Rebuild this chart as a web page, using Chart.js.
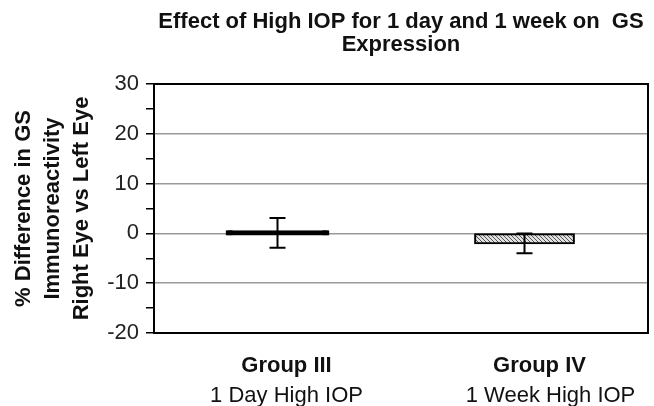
<!DOCTYPE html>
<html>
<head>
<meta charset="utf-8">
<script src="https://cdn.jsdelivr.net/npm/chart.js@4"></script>
<style>
  html, body { margin: 0; padding: 0; background: #fff; }
  #wrap { width: 654px; height: 406px; }
</style>
</head>
<body>
<div id="wrap"><canvas id="chart"></canvas></div>
<script>
// data
const categories = ["Group III", "Group IV"];
const subLabels = ["1 Day High IOP", "1 Week High IOP"];
const meanDiff = [0.1, -2.0];
const errDiff = [3.0, 2.0];
const titleLines = ["Effect of High IOP for 1 day and 1 week on  GS", "Expression"];
const yTitleLines = ["% Difference in GS", "Immunoreactivity", "Right Eye vs Left Eye"];
const yMin = -20, yMax = 30;

const FONT = "'Liberation Sans', Arial, sans-serif";

// hatched fill like the excel pattern
function hatch() {
  const c = document.createElement("canvas");
  c.width = 4; c.height = 4;
  const g = c.getContext("2d");
  g.fillStyle = "#e0e0e0";
  g.fillRect(0, 0, 4, 4);
  g.strokeStyle = "#555";
  g.lineWidth = 1;
  g.beginPath();
  g.moveTo(-1, -1); g.lineTo(5, 5);
  g.moveTo(-1, 3); g.lineTo(1, 5);
  g.moveTo(3, -1); g.lineTo(5, 1);
  g.stroke();
  return g.createPattern(c, "repeat");
}

const extras = {
  id: "extras",
  afterDatasetsDraw(chart) {
    const ctx = chart.ctx;
    const y = chart.scales.y;
    const meta = chart.getDatasetMeta(0);
    ctx.save();
    ctx.strokeStyle = "#000";
    ctx.lineWidth = 2;
    meta.data.forEach((bar, i) => {
      const top = y.getPixelForValue(meanDiff[i] + errDiff[i]);
      const bot = y.getPixelForValue(meanDiff[i] - errDiff[i]);
      ctx.beginPath();
      ctx.moveTo(bar.x, top); ctx.lineTo(bar.x, bot);
      ctx.moveTo(bar.x - 8, top); ctx.lineTo(bar.x + 8, top);
      ctx.moveTo(bar.x - 8, bot); ctx.lineTo(bar.x + 8, bot);
      ctx.stroke();
    });
    ctx.restore();
  },
  afterDraw(chart) {
    const ctx = chart.ctx;
    const a = chart.chartArea;
    ctx.save();
    ctx.strokeStyle = "#000";
    ctx.lineWidth = 2;
    ctx.strokeRect(a.left, a.top, a.right - a.left, a.bottom - a.top);

    const cx = (a.left + a.right) / 2;
    ctx.fillStyle = "#111";
    ctx.textAlign = "center";
    ctx.textBaseline = "alphabetic";
    ctx.font = "bold 22px " + FONT;
    ctx.fillText(titleLines[0], cx, 28);
    ctx.fillText(titleLines[1], cx, 51);

    const meta = chart.getDatasetMeta(0);
    const nudge = [[9, 9], [15, 26]];
    meta.data.forEach((bar, i) => {
      ctx.font = "bold 22px " + FONT;
      ctx.fillText(categories[i], bar.x + nudge[i][0], 372);
      ctx.font = "22px " + FONT;
      ctx.fillText(subLabels[i], bar.x + nudge[i][1], 402);
    });
    ctx.restore();
  }
};

new Chart(document.getElementById("chart"), {
  type: "bar",
  data: {
    labels: categories,
    datasets: [{
      data: meanDiff,
      backgroundColor: ["#000", hatch()],
      borderColor: "#000",
      borderWidth: 2,
      borderSkipped: false,
      inflateAmount: [2.5, 1],
      barPercentage: 0.4,
      categoryPercentage: 1
    }]
  },
  options: {
    responsive: true,
    maintainAspectRatio: false,
    animation: false,
    layout: { padding: { top: 84, right: 6, left: 0, bottom: 0 } },
    plugins: { legend: { display: false }, tooltip: { enabled: false }, title: { display: false } },
    scales: {
      x: {
        grid: { display: false },
        border: { display: false },
        ticks: { display: false },
        afterFit: s => { s.height = 73; }
      },
      y: {
        min: yMin,
        max: yMax,
        afterFit: s => { s.width = 154; },
        border: { display: true, color: "#000", width: 2 },
        grid: {
          color: c => (c.tick && c.tick.value % 10 === 0) ? "#999" : "rgba(0,0,0,0)",
          lineWidth: 1.5,
          tickColor: "#000",
          tickLength: 8
        },
        ticks: {
          stepSize: 5,
          autoSkip: false,
          padding: 7,
          color: "#222",
          font: { family: FONT, size: 22 },
          callback: v => (v % 10 === 0 ? v : "")
        },
        title: {
          display: true,
          text: yTitleLines,
          color: "#111",
          font: { family: FONT, size: 22, weight: "bold", lineHeight: 1.3 },
          padding: { top: 10, bottom: 0 }
        }
      }
    }
  },
  plugins: [extras]
});
</script>
</body>
</html>
